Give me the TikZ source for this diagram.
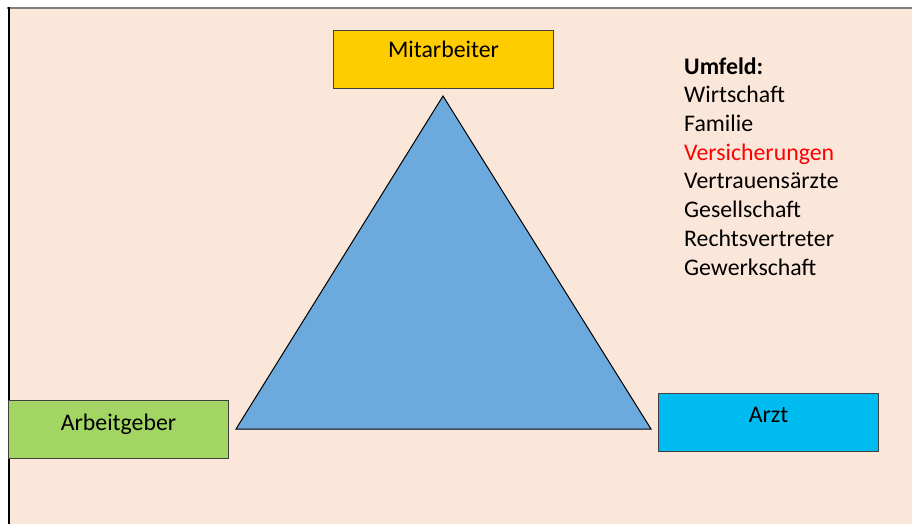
\documentclass[tikz,border=0pt]{standalone}
\usepackage{fontspec}
\setmainfont{Carlito}
\definecolor{bgpeach}{HTML}{FBE6DA}
\definecolor{mitgold}{HTML}{FFCC00}
\definecolor{trblue}{HTML}{6CAADD}
\definecolor{aggreen}{HTML}{A2D563}
\definecolor{arztblue}{HTML}{00BBF0}
\definecolor{boxline}{HTML}{404040}
\definecolor{topline}{HTML}{7F7F7F}
\begin{document}
\begin{tikzpicture}[x=1pt,y=-1pt,
  box/.style={draw=boxline,line width=1pt,inner sep=0pt,anchor=north west,
    font=\fontsize{23.8}{28.7}\selectfont},
  txt/.style={font=\fontsize{23.8}{28.7}\selectfont,inner sep=0pt}]
\useasboundingbox (0,0) rectangle (912,524);
\fill[bgpeach] (8,8) rectangle (912,524);
\draw[topline,line width=2pt] (7,8.5) -- (912,8.5);
\draw[black,line width=2pt] (8.5,7.5) -- (8.5,524);
% triangle
\node[coordinate] (apex) at (443,96) {};
\node[coordinate] (bl) at (236,429) {};
\node[coordinate] (br) at (651,429) {};
\draw[fill=trblue,draw=black,line width=1pt,line join=miter] (apex) -- (br) -- (bl) -- cycle;
% boxes
\node[box,fill=mitgold,minimum width=220pt,minimum height=58pt,text height=14pt,text depth=18pt] (mit) at (333,30) {Mitarbeiter};
\node[box,fill=aggreen,minimum width=220pt,minimum height=58pt,text height=17pt,text depth=15pt] (ag) at (8,400) {Arbeitgeber};
\node[box,fill=arztblue,minimum width=220pt,minimum height=58pt,text height=16pt,text depth=16pt] (arzt) at (658,393) {Arzt};
% Umfeld list (base anchor = baseline of last line)
\node[txt,anchor=base west,align=left] (umfeld) at (684,275) {\textbf{Umfeld:}\\Wirtschaft\\Familie\\\textcolor{red}{Versicherungen}\\Vertrauensärzte\\Gesellschaft\\Rechtsvertreter\\Gewerkschaft};
\end{tikzpicture}
\end{document}
